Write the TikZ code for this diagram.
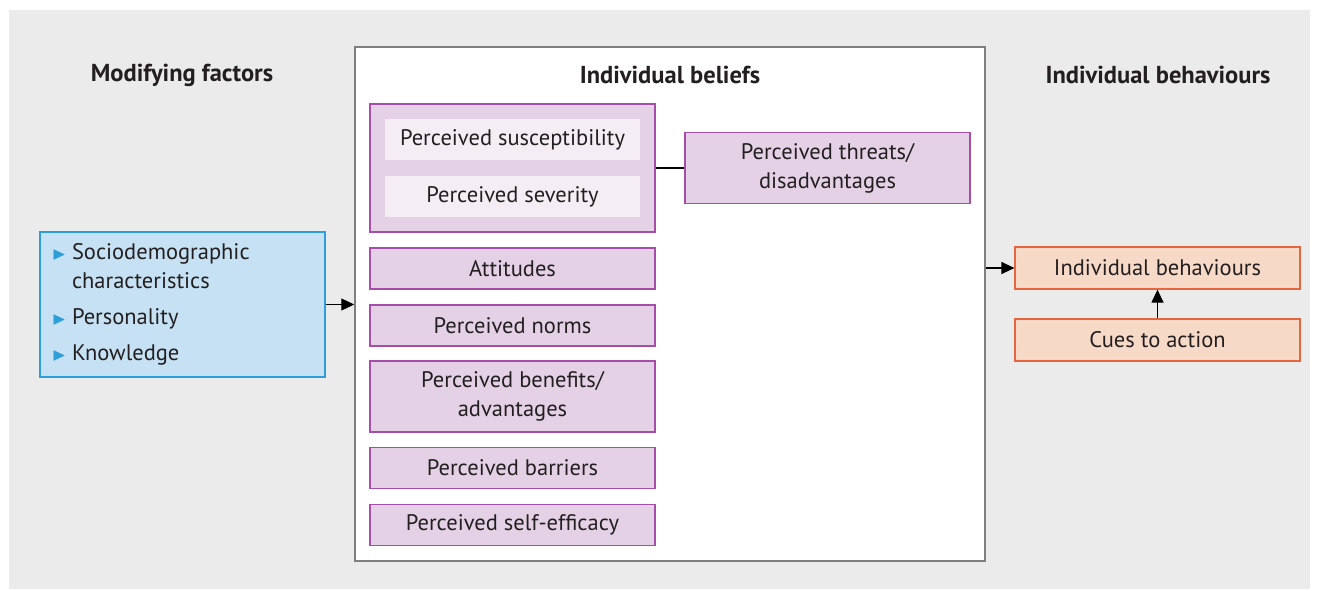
\documentclass[tikz,border=0pt]{standalone}
\usepackage{fontspec}
\setmainfont{PT Sans}
\usepackage{amssymb}
\usetikzlibrary{arrows.meta,positioning}
\definecolor{bggray}{HTML}{EAEBEA}
\definecolor{boxgray}{HTML}{7F7F7F}
\definecolor{beliefline}{HTML}{A54DA9}
\definecolor{belieffill}{HTML}{E4D1E6}
\definecolor{innerfill}{HTML}{F4EEF4}
\definecolor{modline}{HTML}{2E9ED9}
\definecolor{modfill}{HTML}{C6E1F4}
\definecolor{behline}{HTML}{E3673F}
\definecolor{behfill}{HTML}{F7D9C7}
\definecolor{txt}{HTML}{231F20}
\newcommand{\bul}{\textcolor{modline}{\fontsize{18}{18}\selectfont$\blacktriangleright$}}

\begin{document}
\begin{tikzpicture}[x=1pt, y=-1pt, font=\fontsize{22.5}{29}\selectfont, text=txt,
  belief/.style={draw=beliefline, fill=belieffill, line width=1.2pt, minimum width=285pt,
    minimum height=41pt, inner sep=0pt, align=center},
  inner/.style={fill=innerfill, minimum width=255pt, minimum height=41pt, inner sep=0pt},
  behav/.style={draw=behline, fill=behfill, line width=1.2pt, minimum width=285pt,
    minimum height=42pt, inner sep=0pt},
  head/.style={font=\fontsize{24.5}{29}\selectfont\bfseries},
  arr/.style={-{Triangle[length=13pt,width=12pt]}, line width=1.2pt}]
\useasboundingbox (0,0) rectangle (1319,590);
\fill[bggray] (9,10) rectangle (1310,589);

% headings
\node[head] (hmod) at (182,75) {Modifying factors};
\node[draw=boxgray, fill=white, line width=1.5pt, minimum width=630pt, minimum height=514pt] (beliefs) at (670,304) {};
\node[head] (hbel) at (670,75) {Individual beliefs};
\node[head] (hbeh) at (1158,75) {Individual behaviours};

% modifying factors
\node[draw=modline, fill=modfill, line width=1.2pt, minimum width=285pt, minimum height=145pt,
  text width=261pt, inner sep=0pt, align=left] (mod) at (182.5,304.5)
  {\begin{tabular}{@{}l@{\hspace{6pt}}l@{}}
    \bul & Sociodemographic\\
         & characteristics\\[7pt]
    \bul & Personality\\[7pt]
    \bul & Knowledge
  \end{tabular}};

% individual beliefs
\node[belief, minimum height=128pt] (grp) at (512.5,168) {};
\node[inner] (susc) at (512.5,139.5) {Perceived susceptibility};
\node[inner] (sev) at (512.5,196.5) {Perceived severity};
\node[belief, minimum height=71pt] (threat) at (827.5,168) {Perceived threats/\\disadvantages};
\node[belief] (att) at (512.5,268.5) {Attitudes};
\node[belief] (norm) at (512.5,325.5) {Perceived norms};
\node[belief, minimum height=71pt] (benef) at (512.5,396.5) {Perceived benefits/\\advantages};
\node[belief] (barr) at (512.5,468) {Perceived barriers};
\node[belief] (eff) at (512.5,525) {Perceived self-efficacy};

% behaviours
\node[behav] (beh) at (1157.5,268) {Individual behaviours};
\node[behav] (cues) at (1157.5,340) {Cues to action};

\draw[line width=1.2pt] (grp.east) -- (grp.east -| threat.west);
\draw[arr] (mod.east) -- (mod.east -| beliefs.west);
\draw[arr] (beh.west -| beliefs.east) -- (beh.west);
\draw[arr] (cues.north) -- (beh.south);
\end{tikzpicture}
\end{document}
